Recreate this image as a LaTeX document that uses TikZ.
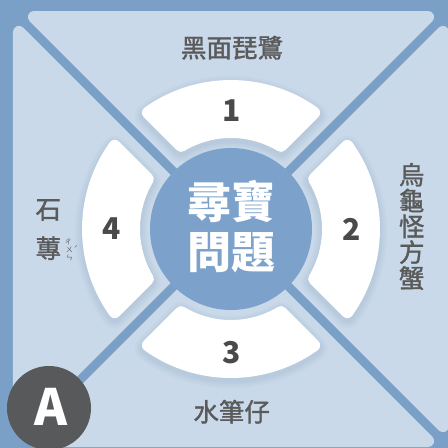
\documentclass[tikz,border=0pt]{standalone}
\usepackage{fontspec}
\setmainfont{Noto Sans CJK TC}
\newfontfamily\labfont{Noto Sans CJK TC}[FakeBold=1.4]
\definecolor{bgblue}{HTML}{7BA0C8}
\definecolor{panel}{HTML}{C9D9EA}
\definecolor{circ}{HTML}{7CA2CB}
\definecolor{txt}{HTML}{5A5A5A}
\definecolor{num}{HTML}{4A4A4A}
\definecolor{adark}{HTML}{58595B}
\definecolor{shad}{HTML}{8DA3BC}
\begin{document}
\begin{tikzpicture}[x=1pt,y=1pt,
  panelst/.style={fill=panel,draw=panel,line width=12pt,line join=round},
  segst/.style={fill=white,draw=white,line width=12pt,line join=round},
  shadst/.style={fill=shad,draw=shad,line join=round,opacity=0.07},
  lab/.style={text=txt,font=\labfont\fontsize{25.5}{25.8}\selectfont,inner sep=0pt},
  numst/.style={text=num,font=\fontsize{30}{30}\selectfont\bfseries,inner sep=0pt},
  ctr/.style={text=white,font=\fontsize{44}{44}\selectfont\bfseries,inner sep=0pt},
  ruby/.style={text=txt,font=\fontsize{7}{7}\selectfont,inner sep=0pt}]
\useasboundingbox (-231,-219) rectangle (217,229);
\fill[bgblue] (-231,-219) rectangle (217,229);
% panels
\foreach \r in {0,90,180,270}{
  \begin{scope}[rotate=\r]
    \filldraw[panelst] (-197.15,212) -- (197.15,212) -- (0,14.85) -- cycle;
  \end{scope}
}
% ring segments
\pgfmathsetmacro\Ro{143}
\pgfmathsetmacro\ri{97}
\pgfmathsetmacro\dd{23.5}
\pgfmathsetmacro\ao{45+asin(\dd/\Ro)}
\pgfmathsetmacro\ai{45+asin(\dd/\ri)}
\pgfmathsetmacro\bo{180-\ao}
\pgfmathsetmacro\bi{180-\ai}
\def\segpath{(\ao:\Ro) arc[start angle=\ao,end angle=\bo,radius=\Ro] -- (\bi:\ri) arc[start angle=\bi,end angle=\ai,radius=\ri] -- cycle}
\foreach \r in {0,90,180,270}{
  \begin{scope}[yshift=-3pt]
  \begin{scope}[rotate=\r]
    \foreach \w in {26,22,18,15}{
      \filldraw[shadst,line width=\w pt] \segpath;
    }
  \end{scope}
  \end{scope}
}
\foreach \r in {0,90,180,270}{
  \begin{scope}[rotate=\r]
    \filldraw[segst] \segpath;
  \end{scope}
}
% center circle
\fill[circ] (0,0) circle[radius=81];
% A badge
\node[circle,fill=adark,minimum size=84pt,inner sep=0pt] (acirc) at (-182,-179) {};
\node[text=white,font=\fontsize{50}{50}\selectfont\bfseries,inner sep=0pt] (aletter) at (-180,-177.7) {A};
% labels
\node[lab] (t1) at (1,181.3) {黑面琵鷺};
\node[lab] (t3) at (0.7,-182.7) {水筆仔};
\node[lab,align=center] (t2) at (180.7,2.5) {烏\\龜\\怪\\方\\蟹};
\node[lab] (t4a) at (-182.7,19) {石};
\node[lab] (t4b) at (-182.7,-19.3) {蓴};
\node[ruby] (r1) at (-162.5,-12.5) {ㄔ};
\node[ruby] (r2) at (-161.5,-20.5) {ㄨ};
\node[ruby] (r3) at (-161.5,-28.5) {ㄣ};
\node[ruby] (r4) at (-155,-19.5) {ˊ};
% numbers
\node[numst] (n1) at (0.7,118) {1};
\node[numst] (n2) at (120.7,0) {2};
\node[numst] (n3) at (0.7,-124) {3};
\node[numst] (n4) at (-119.3,0) {4};
% center text
\node[ctr] (c1) at (1,27.3) {尋寶};
\node[ctr] (c2) at (1,-24) {問題};
\end{tikzpicture}
\end{document}
